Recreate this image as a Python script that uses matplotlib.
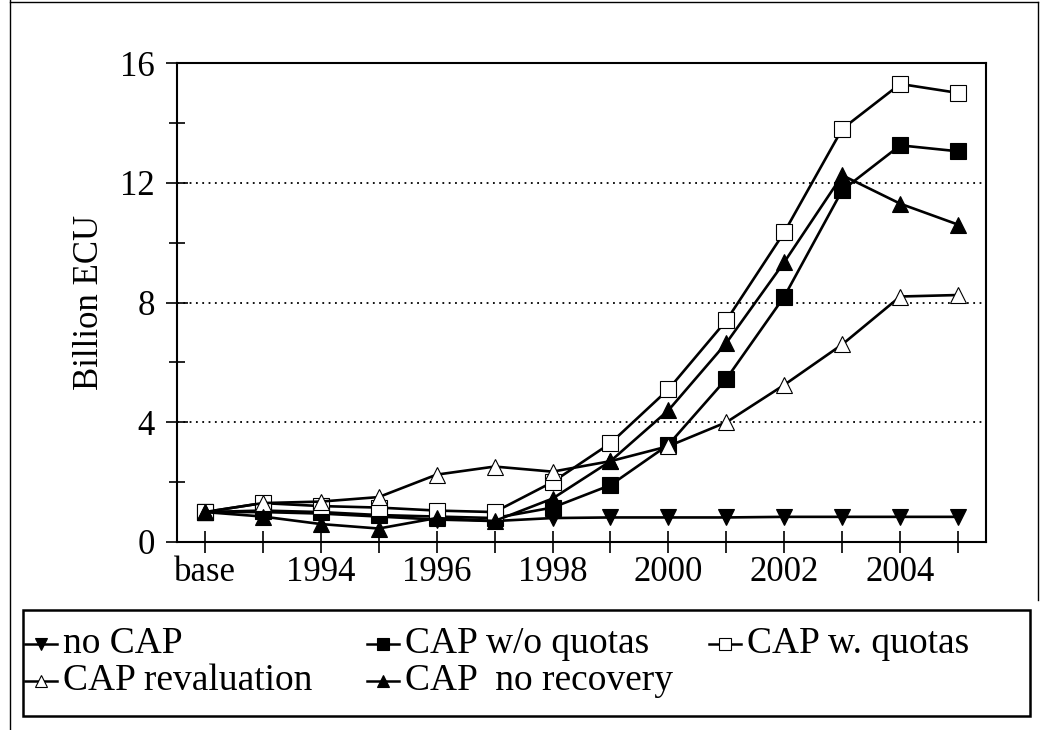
import matplotlib
matplotlib.use("Agg")
import matplotlib.pyplot as plt
from matplotlib.lines import Line2D
from matplotlib.patches import Rectangle

plt.rcParams["font.family"] = ["Liberation Serif", "DejaVu Serif"]

# Data
years = ["base", "1993", "1994", "1995", "1996", "1997", "1998", "1999",
         "2000", "2001", "2002", "2003", "2004", "2005"]
no_cap = [1.0, 1.0, 0.95, 0.85, 0.75, 0.7, 0.8, 0.82, 0.82, 0.82, 0.84, 0.84, 0.84, 0.84]
cap_wo_quotas = [1.0, 1.05, 1.0, 0.9, 0.85, 0.8, 1.15, 1.9, 3.25, 5.45, 8.2, 11.75, 13.25, 13.05]
cap_w_quotas = [1.0, 1.3, 1.2, 1.15, 1.05, 1.0, 2.0, 3.3, 5.1, 7.4, 10.35, 13.8, 15.3, 15.0]
cap_revaluation = [1.0, 1.3, 1.35, 1.5, 2.25, 2.52, 2.35, 2.7, 3.2, 4.0, 5.25, 6.6, 8.2, 8.25]
cap_no_recovery = [1.0, 0.85, 0.6, 0.45, 0.8, 0.7, 1.45, 2.7, 4.4, 6.65, 9.35, 12.25, 11.3, 10.6]

x = list(range(len(years)))

series = [
    ("no CAP", no_cap, "v", "black"),
    ("CAP w/o quotas", cap_wo_quotas, "s", "black"),
    ("CAP w. quotas", cap_w_quotas, "s", "white"),
    ("CAP revaluation", cap_revaluation, "^", "white"),
    ("CAP  no recovery", cap_no_recovery, "^", "black"),
]

W, H = 1041, 730
fig = plt.figure(figsize=(W / 100, H / 100), dpi=100)
ax = fig.add_axes([177 / W, 1 - 542 / H, (986 - 177) / W, (542 - 63) / H])

for name, vals, mk, fc in series:
    ax.plot(x, vals, color="black", lw=1.9, marker=mk, markersize=11,
            markerfacecolor=fc, markeredgecolor="black", markeredgewidth=0.8)

ax.set_xlim(-0.48, 13.48)
ax.set_ylim(0, 16)
ax.set_yticks([0, 4, 8, 12, 16])
ax.set_yticks([2, 6, 10, 14], minor=True)
ax.set_xticks(x)
ax.set_xticklabels([y if i % 2 == 0 else "" for i, y in enumerate(years)])
ax.tick_params(axis="both", which="both", direction="inout", length=16,
               width=1.2, labelsize=25)
ax.tick_params(axis="y", which="minor", length=12)
ax.tick_params(axis="y", which="major", pad=8)
ax.tick_params(axis="x", pad=2)
for y in [4, 8, 12]:
    ax.axhline(y, color="black", lw=1.3, ls=(0, (1, 2.5)), zorder=0)
for s in ax.spines.values():
    s.set_linewidth(1.5)
ax.set_ylabel("Billion ECU", fontsize=25, labelpad=10)

# Legend drawn by hand to match the two-row layout
fig.add_artist(Rectangle((23 / W, 1 - 716 / H), (1030 - 23) / W, (716 - 610) / H,
                         transform=fig.transFigure, fill=False, lw=1.8, ec="black"))
cols = [25, 367, 709]
rows = [644, 681]
pos = [(0, 0), (0, 1), (0, 2), (1, 0), (1, 1)]
for (name, vals, mk, fc), (r, c) in zip(series, pos):
    x0 = cols[c] / W
    yy = 1 - rows[r] / H
    fig.add_artist(Line2D([x0, x0 + 32 / W], [yy, yy],
                          transform=fig.transFigure, color="black", lw=1.8))
    fig.add_artist(Line2D([x0 + 16 / W], [yy], transform=fig.transFigure,
                          marker=mk, markersize=9, markerfacecolor=fc,
                          markeredgecolor="black", markeredgewidth=0.8, lw=0))
    fig.text(x0 + 38 / W, yy, name, fontsize=27, va="center", ha="left")

# outer frame of the figure
fig.add_artist(Line2D([10 / W, 10 / W], [0, 1], transform=fig.transFigure, color="black", lw=1))
fig.add_artist(Line2D([10 / W, 1038 / W], [1 - 2 / H, 1 - 2 / H], transform=fig.transFigure, color="black", lw=1))
fig.add_artist(Line2D([1038 / W, 1038 / W], [1 - 2 / H, 1 - 600 / H], transform=fig.transFigure, color="black", lw=1))

fig.savefig("out.png", dpi=100)
